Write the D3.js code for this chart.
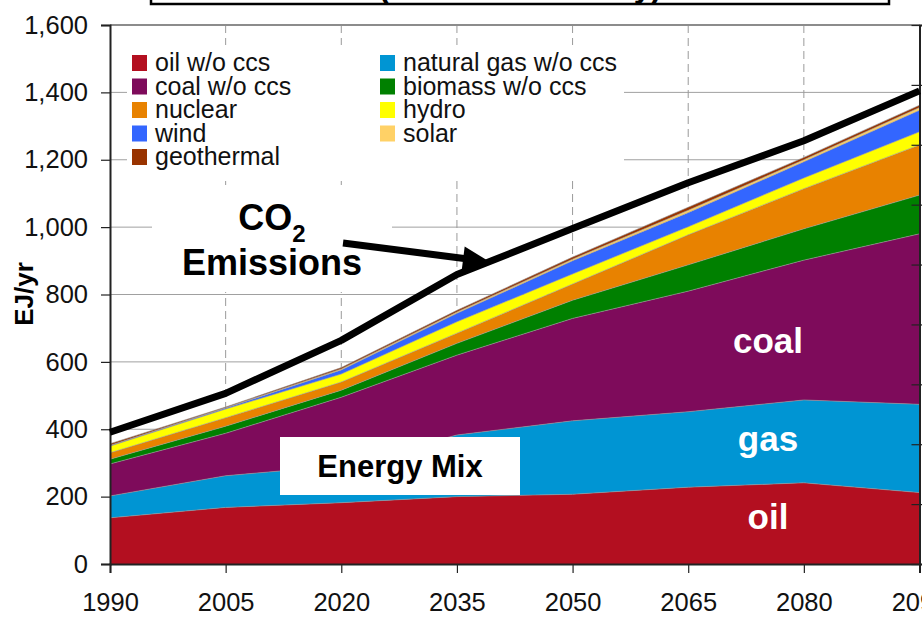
<!DOCTYPE html>
<html>
<head>
<meta charset="utf-8">
<script src="https://cdn.jsdelivr.net/npm/d3@7"></script>
<style>
  html, body { margin: 0; padding: 0; background: #fff; }
  svg { display: block; font-family: "Liberation Sans", Arial, sans-serif; }
</style>
</head>
<body>
<svg id="chart" width="922" height="617"></svg>
<script>
// ---------------- DATA ----------------
const years = [1990, 2005, 2020, 2035, 2050, 2065, 2080, 2095];
const oil        = [137, 168, 182, 200, 207, 228, 241, 212];
const naturalGas = [ 65,  94, 110, 183, 218, 224, 246, 262];
const coal       = [ 95, 126, 203, 237, 304, 358, 415, 506];
const biomass    = [ 14,  21,  21,  35,  54,  78,  93, 115];
const nuclear    = [ 19,  25,  24,  30,  48,  89, 119, 149];
const hydro      = [ 20,  26,  24,  34,  30,  24,  32,  39];
const wind       = [  1,   3,  12,  25,  39,  42,  48,  64];
const solar      = [  1,   1,   3,   4,   5,   7,   6,   8];
const geothermal = [  5,   2,   4,   5,   6,   9,   7,   7];
// CO2 emissions (GtC, right axis)
const co2Emissions = [6.6, 8.55, 11.2, 14.5, 16.8, 19.1, 21.2, 23.7];

const seriesKeys   = ["oil", "gas", "coal", "biomass", "nuclear", "hydro", "wind", "solar", "geothermal"];
const legendLabels = ["oil w/o ccs", "natural gas w/o ccs", "coal w/o ccs", "biomass w/o ccs",
                      "nuclear", "hydro", "wind", "solar", "geothermal"];
const yTicks      = [0, 200, 400, 600, 800, 1000, 1200, 1400, 1600];
const xTicks      = [1990, 2005, 2020, 2035, 2050, 2065, 2080, 2095];
const yRightTicks = [0, 3, 6, 9, 12, 15, 18, 21, 24, 27];
const areaLabels  = [{text: "oil", v: 105}, {text: "gas", v: 335}, {text: "coal", v: 625}];

// ---------------- STYLE ----------------
const colors = {
  oil: "#b30f20", gas: "#0095d3", coal: "#7e0b5b", biomass: "#008000",
  nuclear: "#e88200", hydro: "#ffff00", wind: "#3366ff", solar: "#ffd166", geothermal: "#993300"
};

const rows = years.map((yr, i) => ({
  year: yr, oil: oil[i], gas: naturalGas[i], coal: coal[i], biomass: biomass[i],
  nuclear: nuclear[i], hydro: hydro[i], wind: wind[i], solar: solar[i], geothermal: geothermal[i],
  co2: co2Emissions[i]
}));

const svg = d3.select("#chart");
const pLeft = 110, pRight = 919.5, pTop = 25, pBottom = 564;

const x = d3.scaleLinear().domain([1990, 2095]).range([pLeft, pRight]);
const y = d3.scaleLinear().domain([0, 1600]).range([pBottom, pTop]);
const yR = d3.scaleLinear().domain([0, 27]).range([pBottom, pTop]);

// Title box (mostly cut off above the window)
svg.append("rect").attr("x", 151).attr("y", -60).attr("width", 738).attr("height", 64)
  .attr("fill", "#fff").attr("stroke", "#000").attr("stroke-width", 2.5);
svg.append("text").attr("x", 520).attr("y", -3).attr("text-anchor", "middle")
  .attr("font-size", 31).attr("font-weight", "bold").text("(No Climate Policy)");

// Grid lines
const grid = svg.append("g");
grid.selectAll("line.h").data(yTicks.filter(d => d > 0 && d < 1600)).join("line")
  .attr("class", "h")
  .attr("x1", pLeft).attr("x2", pRight).attr("y1", d => y(d)).attr("y2", d => y(d))
  .attr("stroke", "#a0a0a0").attr("stroke-width", 1);
grid.selectAll("line.v").data(xTicks.filter(d => d > 1990 && d < 2095)).join("line")
  .attr("class", "v")
  .attr("x1", d => x(d)).attr("x2", d => x(d)).attr("y1", pTop).attr("y2", pBottom)
  .attr("stroke", "#9a9a9a").attr("stroke-width", 1).attr("stroke-dasharray", "8,5");

// Stacked areas
const stack = d3.stack().keys(seriesKeys)(rows);
const area = d3.area().x(d => x(d.data.year)).y0(d => y(d[0])).y1(d => y(d[1]));
const topLine = d3.line().x(d => x(d.data.year)).y(d => y(d[1]));
svg.append("g").selectAll("path").data(stack).join("path")
  .attr("d", area).attr("fill", d => colors[d.key]);
svg.append("g").selectAll("path").data(stack).join("path")
  .attr("d", topLine).attr("fill", "none")
  .attr("stroke", "rgba(150,150,150,0.7)").attr("stroke-width", 0.9);

// Frame / axes
svg.append("line").attr("x1", pLeft).attr("x2", pRight).attr("y1", pTop).attr("y2", pTop)
  .attr("stroke", "#8c8c8c").attr("stroke-width", 2);

const yAxis = d3.axisLeft(y).tickValues(yTicks).tickSize(9).tickPadding(13)
  .tickFormat(d3.format(","));
const gy = svg.append("g").attr("transform", `translate(${pLeft},0)`).call(yAxis);
gy.select(".domain").attr("stroke", "#222").attr("stroke-width", 2);
gy.selectAll(".tick line").attr("stroke", "#222").attr("stroke-width", 1.2);
gy.selectAll(".tick text").attr("font-size", 25.5).attr("fill", "#111")
  .attr("font-family", "'Liberation Sans', Arial, sans-serif");

const xAxis = d3.axisBottom(x).tickValues(xTicks).tickSize(9).tickPadding(20)
  .tickFormat(d3.format("d"));
const gx = svg.append("g").attr("transform", `translate(0,${pBottom})`).call(xAxis);
gx.select(".domain").attr("stroke", "#222").attr("stroke-width", 2);
gx.selectAll(".tick line").attr("stroke", "#222").attr("stroke-width", 1.2);
gx.selectAll(".tick text").attr("font-size", 25.5).attr("fill", "#111")
  .attr("font-family", "'Liberation Sans', Arial, sans-serif");

const yRAxis = d3.axisRight(yR).tickValues(yRightTicks).tickSize(9).tickFormat("");
const gr = svg.append("g").attr("transform", `translate(${pRight},0)`).call(yRAxis);
gr.select(".domain").attr("stroke", "#222").attr("stroke-width", 2);
gr.selectAll(".tick line").attr("stroke", "#222").attr("stroke-width", 1.2).attr("x1", -8);

// Y-axis title
svg.append("text").attr("transform", "translate(33,294) rotate(-90)")
  .attr("text-anchor", "middle").attr("font-size", 26).attr("font-weight", "bold")
  .text("EJ/yr");

// Legend
svg.append("rect").attr("x", 127).attr("y", 45).attr("width", 497).attr("height", 131).attr("fill", "#fff");
const leg = svg.append("g").selectAll("g").data(seriesKeys).join("g")
  .attr("transform", (d, i) => `translate(${i % 2 === 0 ? 132 : 380},${71 + Math.floor(i / 2) * 23.5})`);
leg.append("rect").attr("x", 0).attr("y", -16).attr("width", 15).attr("height", 16)
  .attr("fill", d => colors[d]);
leg.append("text").attr("x", 23).attr("y", 0).attr("font-size", 25).attr("fill", "#111")
  .text((d, i) => legendLabels[i]);

// Area labels
svg.append("g").selectAll("text").data(areaLabels).join("text")
  .attr("x", 768).attr("y", d => y(d.v)).attr("text-anchor", "middle")
  .attr("font-size", 35).attr("font-weight", "bold").attr("fill", "#fff")
  .text(d => d.text);

// Energy Mix box
svg.append("rect").attr("x", 280).attr("y", 437).attr("width", 240).attr("height", 58).attr("fill", "#fff");
svg.append("text").attr("x", 400).attr("y", 477).attr("text-anchor", "middle")
  .attr("font-size", 31).attr("font-weight", "bold").text("Energy Mix");

// CO2 emissions line
const co2Line = d3.line().x(d => x(d.year)).y(d => yR(d.co2));
svg.append("path").datum(rows).attr("d", co2Line).attr("fill", "none")
  .attr("stroke", "#000").attr("stroke-width", 7).attr("stroke-linejoin", "round");

// CO2 label
svg.append("rect").attr("x", 152).attr("y", 185).attr("width", 240).attr("height", 107).attr("fill", "#fff");
const co2t = svg.append("text").attr("x", 272).attr("y", 230).attr("text-anchor", "middle")
  .attr("font-size", 36).attr("font-weight", "bold");
co2t.append("tspan").text("CO");
co2t.append("tspan").attr("font-size", 24).attr("dy", 12).text("2");
svg.append("text").attr("x", 272).attr("y", 275).attr("text-anchor", "middle")
  .attr("font-size", 36).attr("font-weight", "bold").text("Emissions");

// Arrow
svg.append("line").attr("x1", 343).attr("y1", 243).attr("x2", 468).attr("y2", 259)
  .attr("stroke", "#000").attr("stroke-width", 7);
svg.append("polygon").attr("points", "490,262 464.7,246.6 461.7,270.4").attr("fill", "#000");
</script>
</body>
</html>
